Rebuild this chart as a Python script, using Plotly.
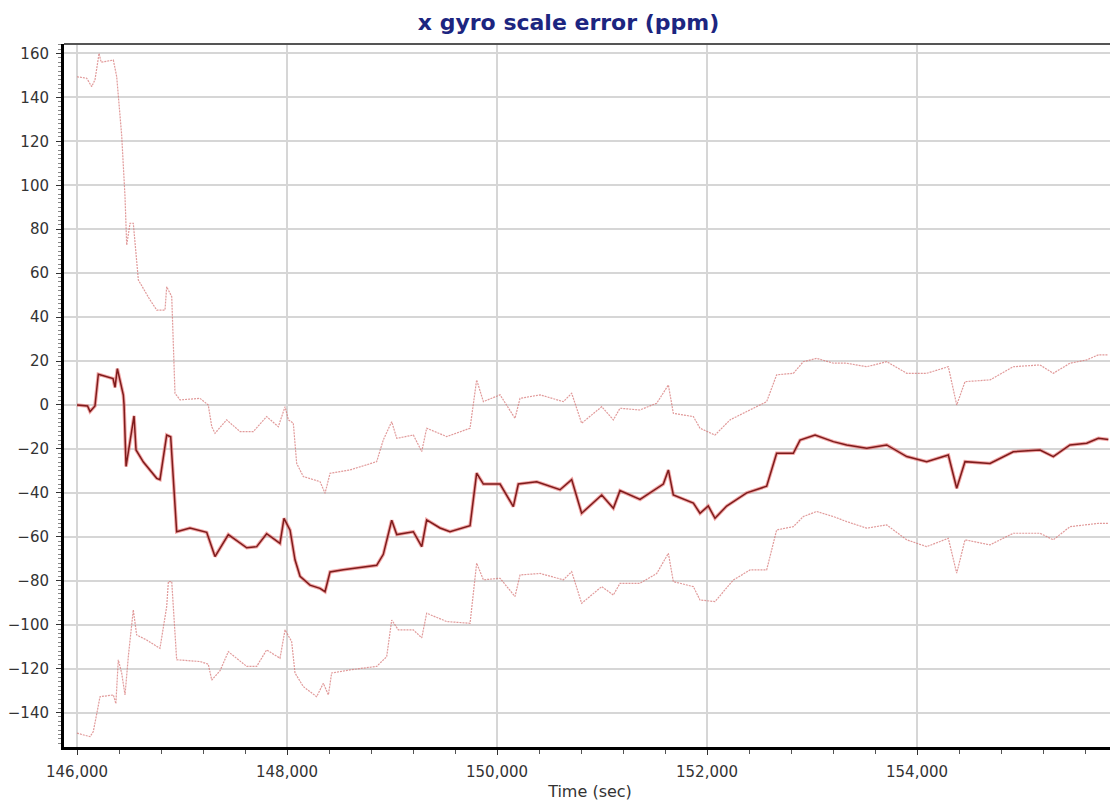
import plotly.graph_objects as go

# ---- data ----
center_t = [146000, 146100, 146124, 146171, 146203, 146343, 146362, 146384, 146441, 146448,
            146467, 146543, 146562, 146632, 146759, 146790, 146854, 146892, 146949, 147076,
            147235, 147283, 147314, 147441, 147616, 147711, 147806, 147933, 147971, 148029,
            148076, 148124, 148219, 148314, 148362, 148410, 148536, 148854, 148917, 148997,
            149045, 149203, 149283, 149330, 149457, 149552, 149743, 149806, 149870, 150029,
            150155, 150203, 150378, 150600, 150711, 150806, 150997, 151108, 151171, 151362,
            151521, 151584, 151632, 151679, 151870, 151933, 152012, 152076, 152187, 152378,
            152568, 152663, 152822, 152886, 153029, 153203, 153330, 153521, 153711, 153902,
            154092, 154298, 154378, 154457, 154695, 154917, 155171, 155298, 155457, 155616,
            155727, 155822]
center_v = [0, -0.5, -3, -0.5, 14, 12, 8, 16.5, 4.5, 0,
            -28, -5, -20.5, -26, -33.4, -34, -13.7, -14.5, -57.7, -56,
            -58, -64.5, -69, -59, -65, -64.5, -58.6, -63, -51.6, -57,
            -70.5, -78, -82, -83.5, -85, -76, -75, -73, -68, -52.5,
            -59, -57.7, -64.5, -52.3, -56, -57.7, -55, -31, -36, -36,
            -46.3, -36, -35, -38.6, -34, -49.3, -41, -47, -39, -43,
            -38, -36, -29.6, -41, -44.7, -49.3, -46, -51.6, -46, -40,
            -37, -22, -22, -16, -13.7, -16.7, -18.2, -19.7, -18.2, -23.5,
            -25.8, -22.8, -37.9, -25.8, -26.6, -21.3, -20.5, -23.5, -18.2, -17.4,
            -15.2, -15.7]

upper_t = [146000, 146092, 146140, 146171, 146210, 146230, 146346, 146378, 146425, 146457,
           146473, 146505, 146536, 146568, 146584, 146695, 146759, 146838, 146854, 146902,
           146933, 146981, 147171, 147250, 147283, 147314, 147425, 147552, 147679, 147806,
           147917, 147981, 148013, 148060, 148092, 148155, 148314, 148362, 148410, 148600,
           148854, 148917, 148997, 149045, 149203, 149283, 149330, 149521, 149743, 149806,
           149870, 150029, 150171, 150219, 150410, 150632, 150711, 150806, 150997, 151108,
           151171, 151362, 151521, 151632, 151679, 151870, 151933, 152076, 152219, 152378,
           152568, 152663, 152822, 152917, 153044, 153203, 153330, 153521, 153711, 153902,
           154092, 154298, 154378, 154457, 154695, 154917, 155171, 155298, 155457, 155616,
           155727, 155822]
upper_v = [149.4, 148.7, 144.9, 148, 160, 156, 157, 149.4, 122.9, 94.8,
           72.8, 82.7, 82.7, 66, 56.9, 47.8, 43.2, 43.2, 53.8, 49.3,
           5.3, 2.3, 3, 0, -9.9, -12.9, -6.8, -12.1, -12.1, -5.3,
           -9.9, -0.8, -6.8, -8.3, -26.6, -32.6, -34.9, -40.2, -31.1, -29.6,
           -25.8, -15.9, -7.6, -15.2, -13.7, -21.2, -10.6, -14.4, -10.6, 11.4,
           1.5, 4.6, -6.1, 3, 4.6, 1.5, 5.3, -8.3, -0.8, -6.8,
           -1.5, -2.3, 0.8, 9.1, -3.8, -5.3, -10.6, -13.7, -6.8, -3,
           1.5, 13.7, 14.4, 19.7, 21.2, 19, 19, 17.4, 19.7, 14.4,
           14.4, 17.4, 0, 10.6, 11.4, 17.4, 18.2, 14.4, 19, 20.5,
           22.8, 22.8]

lower_t = [146000, 146124, 146155, 146219, 146346, 146370, 146393, 146425, 146457, 146490,
           146536, 146568, 146663, 146790, 146854, 146870, 146902, 146949, 147171, 147250,
           147283, 147362, 147441, 147616, 147711, 147806, 147933, 147981, 148044, 148076,
           148155, 148282, 148346, 148394, 148425, 148600, 148854, 148949, 148997, 149060,
           149203, 149283, 149330, 149521, 149743, 149806, 149870, 150029, 150171, 150219,
           150410, 150632, 150711, 150806, 150997, 151108, 151171, 151362, 151521, 151632,
           151679, 151870, 151933, 152076, 152250, 152410, 152568, 152663, 152822, 152917,
           153044, 153203, 153330, 153521, 153711, 153902, 154092, 154298, 154378, 154457,
           154695, 154917, 155171, 155298, 155457, 155616, 155727, 155822]
lower_v = [-149.4, -151, -148.7, -132.8, -132, -136, -116, -122, -132, -113.8,
           -93.3, -104.7, -107, -110.8, -91.8, -80.4, -80.4, -116, -116.8, -118,
           -125.2, -121, -112.3, -119, -119, -111.5, -115.3, -102.4, -107.7, -122,
           -128.2, -132.8, -126.7, -132, -122, -120.6, -119, -114.6, -97.9, -102.4,
           -102.4, -106, -94.8, -98.6, -99.4, -72, -79.6, -78.9, -87.2, -77.4,
           -76.7, -79.6, -75.9, -90.3, -82.7, -86.5, -81.2, -81.2, -76.7, -67.5,
           -80.4, -82.7, -88.8, -89.5, -79.7, -75.1, -75.1, -56.9, -55.4, -50.8,
           -48.5, -50.8, -53.1, -56.1, -54.6, -61.4, -64.5, -60.7, -76.6, -61.4,
           -63.7, -58.4, -58.4, -61.4, -55.4, -54.6, -53.9, -53.9]

x_ticks = [146000, 148000, 150000, 152000, 154000]
x_tick_labels = ["146,000", "148,000", "150,000", "152,000", "154,000"]
y_ticks = list(range(-140, 161, 20))

fig = go.Figure()
bound_style = dict(color="rgba(215,120,120,0.75)", width=1.2, dash="2px,1px")
fig.add_trace(go.Scatter(x=upper_t, y=upper_v, mode="lines", line=bound_style,
                         showlegend=False, hoverinfo="skip"))
fig.add_trace(go.Scatter(x=lower_t, y=lower_v, mode="lines", line=bound_style,
                         showlegend=False, hoverinfo="skip"))
fig.add_trace(go.Scatter(x=center_t, y=center_v, mode="lines",
                         line=dict(color="rgba(230,80,80,0.5)", width=3.5),
                         showlegend=False, hoverinfo="skip"))
fig.add_trace(go.Scatter(x=center_t, y=center_v, mode="lines",
                         line=dict(color="#7e1c1c", width=1.5),
                         showlegend=False))

font_family = "DejaVu Sans, Verdana, sans-serif"
fig.update_layout(
    width=1110, height=794,
    margin=dict(l=56, r=2, t=36, b=55, autoexpand=False),
    paper_bgcolor="white", plot_bgcolor="white",
    title=dict(text="<b>x gyro scale error (ppm)</b>", x=0.505, xanchor="center",
               y=0.982, yanchor="middle", automargin=False,
               font=dict(family=font_family, size=22, color="#1c2580")),
    font=dict(family=font_family, size=15, color="#333333"),
    xaxis=dict(range=[145876, 155895], tickvals=x_ticks, ticktext=x_tick_labels,
               automargin=False,
               showgrid=True, gridcolor="#d6d6d6", gridwidth=2,
               showline=True, linecolor="black", linewidth=3,
               ticks="outside", ticklen=5, tickcolor="#333", tickwidth=1,
               ticklabelstandoff=4,
               minor=dict(dtick=400, tick0=146000, ticks="outside", ticklen=4,
                          tickcolor="#555", showgrid=False),
               zeroline=False,
               title=dict(text="Time (sec)", font=dict(size=16, color="#333"), standoff=6),
               tickfont=dict(size=15, color="#333")),
    yaxis=dict(range=[-155.7, 164.3], tickvals=y_ticks,
               automargin=False,
               showgrid=True, gridcolor="#d6d6d6", gridwidth=2,
               showline=True, linecolor="black", linewidth=3,
               ticks="outside", ticklen=5, tickcolor="#333", tickwidth=1,
               ticklabelstandoff=4,
               minor=dict(dtick=2, tick0=0, ticks="outside", ticklen=3,
                          tickcolor="#888", showgrid=False),
               zeroline=False,
               tickfont=dict(size=15, color="#333")),
    shapes=[dict(type="line", xref="paper", yref="paper", x0=0, x1=1, y0=1, y1=1,
                 line=dict(color="#555555", width=2))],
)

fig.write_html("out.html")
